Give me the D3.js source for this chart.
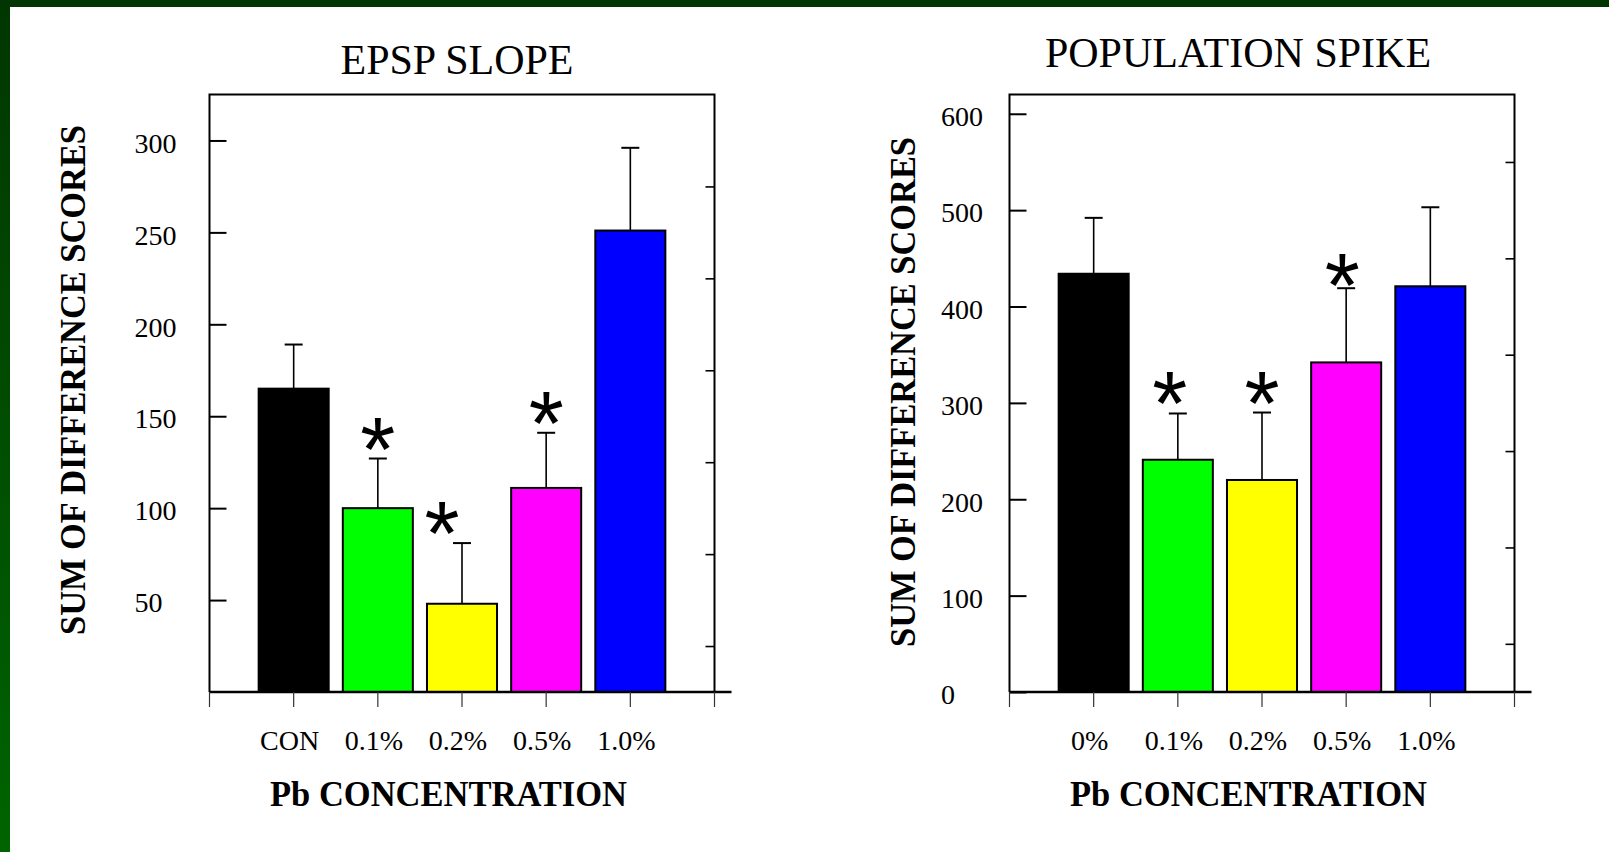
<!DOCTYPE html>
<html>
<head>
<meta charset="utf-8">
<script src="https://cdn.jsdelivr.net/npm/d3@7"></script>
<style>
  body { margin: 0; background: #fff; }
  svg { display: block; }
  text { font-family: "Liberation Serif", "Times New Roman", serif; fill: #000; }
  .star { font-family: "Liberation Sans", Arial, sans-serif; }
</style>
</head>
<body>
<svg id="draw" width="1609" height="852"></svg>
<script>
// ---- data ------------------------------------------------------------------
var epspCategories = ["CON", "0.1%", "0.2%", "0.5%", "1.0%"];
var epspMeans = [165, 100, 48, 111, 251];
var epspErrors = [24, 27, 33, 30, 45];
var epspStars = [false, true, true, true, false];
var epspTicks = [50, 100, 150, 200, 250, 300];
var epspMinorTicks = [25, 75, 125, 175, 225, 275];

var popCategories = ["0%", "0.1%", "0.2%", "0.5%", "1.0%"];
var popMeans = [434, 241, 220, 342, 421];
var popErrors = [58, 48, 70, 77, 82];
var popStars = [false, true, true, true, false];
var popTicks = [0, 100, 200, 300, 400, 500, 600];
var popMinorTicks = [50, 150, 250, 350, 450, 550];

var barColors = ["#000000", "#00ff00", "#ffff00", "#ff00ff", "#0000ff"];

// ---------------------------------------------------------------------------

var svg = d3.select("#draw");
var W = 1609, H = 852;

// page frame: dark green bands top and left
var defs = svg.append("defs");
var grad = defs.append("linearGradient")
    .attr("id", "leftband").attr("x1", 0).attr("y1", 0).attr("x2", 0).attr("y2", 1);
grad.append("stop").attr("offset", "0%").attr("stop-color", "#013601");
grad.append("stop").attr("offset", "100%").attr("stop-color", "#006400");
svg.append("rect").attr("x", 0).attr("y", 0).attr("width", W).attr("height", H).attr("fill", "#fff");
svg.append("rect").attr("x", 0).attr("y", 0).attr("width", 10).attr("height", H).attr("fill", "url(#leftband)");
svg.append("rect").attr("x", 0).attr("y", 0).attr("width", W).attr("height", 7).attr("fill", "#013501");

function panel(opt) {
    var left = opt.left, right = left + 505, top = 94.5, bottom = 692;
    var g = svg.append("g");

    var x = d3.scalePoint()
        .domain(opt.categories)
        .range([left, right])
        .padding(1);
    var y = d3.scaleLinear()
        .domain([0, opt.max])
        .range([bottom, top]);
    var bw = x.step() * 0.832;

    var rows = opt.categories.map((c, i) => ({
        cat: c, mean: opt.means[i], err: opt.errors[i], star: opt.stars[i], color: barColors[i]
    }));

    // error bars (drawn first, upward only)
    g.selectAll("line.err")
        .data(rows)
        .enter()
        .append("line")
        .attr("class", "err")
        .attr("x1", (d) => x(d.cat))
        .attr("x2", (d) => x(d.cat))
        .attr("y1", (d) => y(d.mean))
        .attr("y2", (d) => y(d.mean + d.err))
        .attr("stroke", "#000")
        .attr("stroke-width", 1.6);
    g.selectAll("line.cap")
        .data(rows)
        .enter()
        .append("line")
        .attr("class", "cap")
        .attr("x1", (d) => x(d.cat) - 9)
        .attr("x2", (d) => x(d.cat) + 9)
        .attr("y1", (d) => y(d.mean + d.err))
        .attr("y2", (d) => y(d.mean + d.err))
        .attr("stroke", "#000")
        .attr("stroke-width", 2);

    // bars
    g.selectAll("rect.bar")
        .data(rows)
        .enter()
        .append("rect")
        .attr("class", "bar")
        .attr("x", (d) => x(d.cat) - bw / 2)
        .attr("y", (d) => y(d.mean))
        .attr("width", bw)
        .attr("height", (d) => y(0) - y(d.mean))
        .attr("fill", (d) => d.color)
        .attr("stroke", "#000")
        .attr("stroke-width", 2);

    // significance stars, just above the error cap
    g.selectAll("text.star")
        .data(rows.filter((d) => d.star))
        .enter()
        .append("text")
        .attr("class", "star")
        .attr("x", (d) => x(d.cat) + (opt.starNudge[d.cat] || [0, 0])[0])
        .attr("y", (d) => y(d.mean + d.err) + 22 + (opt.starNudge[d.cat] || [0, 0])[1])
        .attr("text-anchor", "middle")
        .style("font-size", "90px")
        .text("*");

    // left axis, ticks inward
    var yAxis = d3.axisLeft(y)
        .tickValues(opt.ticks)
        .tickSizeInner(-17)
        .tickSizeOuter(0)
        .tickFormat(d3.format("d"));
    var ya = g.append("g")
        .attr("transform", "translate(" + left + ",0)")
        .call(yAxis);
    ya.select(".domain").remove();
    ya.selectAll(".tick line").attr("stroke", "#000").attr("stroke-width", 2);
    ya.selectAll(".tick text")
        .attr("x", opt.labelX - left)
        .attr("dy", "0.42em")
        .attr("text-anchor", "start")
        .style("font-size", "28px")
        .style("font-family", "'Liberation Serif', 'Times New Roman', serif");

    // right side minor ticks
    var yAxisR = d3.axisLeft(y)
        .tickValues(opt.minorTicks)
        .tickSizeInner(9)
        .tickSizeOuter(0)
        .tickFormat("");
    var yr = g.append("g")
        .attr("transform", "translate(" + right + ",0)")
        .call(yAxisR);
    yr.select(".domain").remove();
    yr.selectAll(".tick line").attr("stroke", "#000").attr("stroke-width", 1.6);

    // frame (left, top, right)
    g.append("path")
        .attr("d", "M" + left + "," + bottom + "V" + top + "H" + right + "V" + bottom)
        .attr("fill", "none")
        .attr("stroke", "#000")
        .attr("stroke-width", 2);

    // x axis line, running a bit past the frame
    g.append("line")
        .attr("x1", left).attr("x2", right + 17)
        .attr("y1", bottom).attr("y2", bottom)
        .attr("stroke", "#000")
        .attr("stroke-width", 2.4);

    // x ticks: frame edges plus each category
    var tickXs = [left].concat(opt.categories.map((c) => x(c))).concat([right]);
    g.selectAll("line.xtick")
        .data(tickXs)
        .enter()
        .append("line")
        .attr("class", "xtick")
        .attr("x1", (d) => d).attr("x2", (d) => d)
        .attr("y1", bottom).attr("y2", bottom + 15)
        .attr("stroke", "#333")
        .attr("stroke-width", 1.2);

    g.selectAll("text.xlab")
        .data(opt.categories)
        .enter()
        .append("text")
        .attr("class", "xlab")
        .attr("x", (d) => x(d) - 4)
        .attr("y", 750)
        .attr("text-anchor", "middle")
        .style("font-size", "28px")
        .text((d) => d);

    // titles
    g.append("text")
        .attr("x", opt.titleX).attr("y", opt.titleY)
        .attr("text-anchor", "middle")
        .style("font-size", "42px")
        .text(opt.title);
    g.append("text")
        .attr("x", left + 239).attr("y", 806)
        .attr("text-anchor", "middle")
        .attr("textLength", 357)
        .attr("lengthAdjust", "spacingAndGlyphs")
        .style("font-size", "36px")
        .style("font-weight", "bold")
        .text("Pb CONCENTRATION");
    g.append("text")
        .attr("transform", "translate(" + opt.yTitleX + "," + opt.yTitleY + ") rotate(-90)")
        .attr("text-anchor", "middle")
        .attr("textLength", 510)
        .attr("lengthAdjust", "spacingAndGlyphs")
        .style("font-size", "36px")
        .style("font-weight", "bold")
        .text("SUM OF DIFFERENCE SCORES");
}

panel({
    left: 209.5, max: 325,
    categories: epspCategories, means: epspMeans, errors: epspErrors, stars: epspStars,
    ticks: epspTicks, minorTicks: epspMinorTicks,
    labelX: 134.5,
    starNudge: { "0.2%": [-20, 0] },
    title: "EPSP SLOPE", titleX: 457, titleY: 74,
    yTitleX: 85, yTitleY: 380
});

panel({
    left: 1009.5, max: 620,
    categories: popCategories, means: popMeans, errors: popErrors, stars: popStars,
    ticks: popTicks, minorTicks: popMinorTicks,
    labelX: 941,
    starNudge: { "0.1%": [-8, 0], "0.5%": [-4, 7] },
    title: "POPULATION SPIKE", titleX: 1238, titleY: 67,
    yTitleX: 915, yTitleY: 392
});
</script>
</body>
</html>
